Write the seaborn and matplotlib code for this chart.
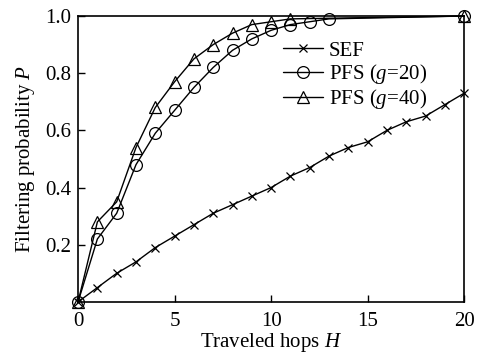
import matplotlib
matplotlib.use("Agg")
import matplotlib.pyplot as plt
import seaborn as sns
import pandas as pd

sns.set_theme(style="ticks")
plt.rcParams['font.family'] = ['Liberation Serif', 'DejaVu Serif']
plt.rcParams['mathtext.fontset'] = 'custom'
plt.rcParams['mathtext.rm'] = 'Liberation Serif'
plt.rcParams['mathtext.it'] = 'Liberation Serif:italic'

hops_sef = list(range(0, 21))
sef = [0.0, 0.05, 0.10, 0.14, 0.19, 0.23, 0.27, 0.31, 0.34, 0.37, 0.40,
       0.44, 0.47, 0.51, 0.54, 0.56, 0.60, 0.63, 0.65, 0.69, 0.73]
hops_g20 = [0, 1, 2, 3, 4, 5, 6, 7, 8, 9, 10, 11, 12, 13, 20]
pfs_g20 = [0.0, 0.22, 0.31, 0.48, 0.59, 0.67, 0.75, 0.82, 0.88, 0.92, 0.95,
           0.97, 0.98, 0.99, 1.0]
hops_g40 = [0, 1, 2, 3, 4, 5, 6, 7, 8, 9, 10, 11, 20]
pfs_g40 = [0.0, 0.28, 0.35, 0.54, 0.68, 0.77, 0.85, 0.90, 0.94, 0.97, 0.98,
           0.99, 1.0]
labels = ["SEF", "PFS ($g$=20)", "PFS ($g$=40)"]
xticks = [0, 5, 10, 15, 20]
yticks = [0.2, 0.4, 0.6, 0.8, 1.0]

fig = plt.figure(figsize=(4.79, 3.56), dpi=100)
ax = fig.add_axes([0.163, 0.152, 0.806, 0.803])

series = [(hops_sef, sef, 'x', 6), (hops_g20, pfs_g20, 'o', 8.5), (hops_g40, pfs_g40, '^', 9)]
for (xs, ys, mk, ms), lab in zip(series, labels):
    df = pd.DataFrame({"H": xs, "P": ys})
    sns.lineplot(data=df, x="H", y="P", ax=ax, color='black', lw=1.0,
                 marker=mk, markersize=ms, markerfacecolor='none',
                 markeredgecolor='black', markeredgewidth=0.9,
                 label=lab, clip_on=False, zorder=3)

ax.set_xlim(0, 20)
ax.set_ylim(0, 1.0)
ax.set_xticks(xticks)
ax.set_xticklabels([str(t) for t in xticks])
ax.set_yticks(yticks)
ax.set_yticklabels([f"{t:.1f}" for t in yticks])
ax.tick_params(direction='in', length=5, width=1, labelsize=15, colors='black')
ax.tick_params(axis='x', pad=7)
ax.tick_params(axis='y', pad=5)
for s in ax.spines.values():
    s.set_color('black')
    s.set_linewidth(1.2)
ax.set_xlabel("Traveled hops $H$", fontsize=15, color='black', labelpad=0)
ax.set_ylabel("Filtering probability $P$", fontsize=15, color='black', labelpad=6)

leg = ax.legend(loc='upper left', bbox_to_anchor=(0.531, 0.912), frameon=False,
                fontsize=15, handlelength=1.9, handletextpad=0.3,
                labelspacing=0.05, borderaxespad=0, borderpad=0)
for t in leg.get_texts():
    t.set_color('black')

fig.savefig("out.png", dpi=100)
